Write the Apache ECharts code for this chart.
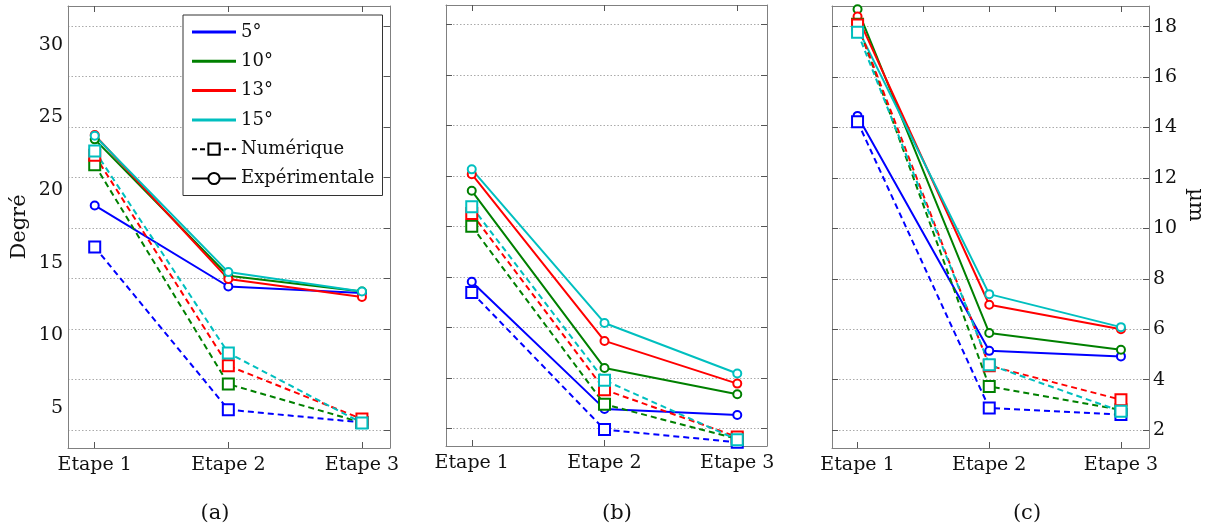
<!DOCTYPE html>
<html><head><meta charset="utf-8">
<script src="https://cdn.jsdelivr.net/npm/echarts@6/dist/echarts.min.js"></script>
<style>html,body{margin:0;padding:0;background:#fff}#c{width:1207px;height:530px}</style>
</head><body><div id="c"></div>
<script>
const etapes = ['Etape 1', 'Etape 2', 'Etape 3'];
const angles = ['5°', '10°', '13°', '15°'];
const colors = ['#0000ff', '#008000', '#ff0000', '#00bfbf'];
const captions = ['(a)', '(b)', '(c)'];
const degTicks = [5, 10, 15, 20, 25, 30];
const umTicks = [2, 4, 6, 8, 10, 12, 14, 16, 18];

// Panel (a): degrees ; rows = 5°,10°,13°,15° ; cols = Etape 1..3
const aExp = [[18.95, 13.37, 12.92], [23.5, 14.11, 13.03], [23.8, 13.88, 12.64], [23.75, 14.36, 13.03]];
const aNum = [[16.08, 4.89, 4.01], [21.75, 6.65, 4.0], [22.4, 7.91, 4.25], [22.7, 8.79, 3.97]];
// Panel (b): µm
const bExp = [[7.81, 2.78, 2.54], [11.41, 4.40, 3.36], [12.07, 5.47, 3.78], [12.26, 6.18, 4.18]];
const bNum = [[7.39, 1.96, 1.46], [10.01, 2.96, 1.59], [10.51, 3.54, 1.67], [10.78, 3.91, 1.56]];
// Panel (c): µm
const cExp = [[14.46, 5.14, 4.92], [18.69, 5.85, 5.18], [18.40, 6.97, 6.0], [17.94, 7.39, 6.08]];
const cNum = [[14.23, 2.87, 2.61], [18.1, 3.73, 2.80], [18.07, 4.55, 3.20], [17.78, 4.59, 2.74]];

const FONT = 'DejaVu Serif';
const TXT = '#111';
const FRAME = '#808080';
const TICK = '#555';

const grids = [
  {left: 68, top: 6, width: 322, height: 442},
  {left: 446, top: 5, width: 321, height: 441},
  {left: 832, top: 6, width: 320, height: 442}
];
const xRanges = [[-0.2, 2.21], [-0.194, 2.224], [-0.194, 2.213]];
const umRanges = [[1.287, 18.80], [1.311, 18.764], [1.286, 18.82]];
const topTicks = [[0, 1, 2], [0, 1, 2], [0, 0.5, 1, 1.5, 2]];

const xAxis = [];
grids.forEach((g, i) => {
  xAxis.push({
    type: 'value', gridIndex: i, min: xRanges[i][0], max: xRanges[i][1], position: 'bottom',
    axisLine: {show: true, onZero: false, lineStyle: {color: FRAME, width: 1}},
    axisTick: {show: true, inside: true, length: 6, customValues: [0, 1, 2], lineStyle: {color: TICK}},
    axisLabel: {customValues: [0, 1, 2], formatter: v => etapes[Math.round(v)], fontFamily: FONT, fontSize: 19, color: TXT, margin: 8},
    splitLine: {show: false}
  });
  xAxis.push({
    type: 'value', gridIndex: i, min: xRanges[i][0], max: xRanges[i][1], position: 'top',
    axisLine: {show: true, onZero: false, lineStyle: {color: FRAME, width: 1}},
    axisTick: {show: true, inside: true, length: 6, customValues: topTicks[i], lineStyle: {color: TICK}},
    axisLabel: {show: false},
    splitLine: {show: false}
  });
});

const gridLine = {show: true, lineStyle: {color: '#aaaaaa', type: [1.5, 2], width: 1}};
const yAxis = [
  // 0: degree axis panel (a)
  {type: 'value', gridIndex: 0, position: 'left', min: 2.25, max: 32.68,
   name: 'Degré', nameLocation: 'middle', nameRotate: 90, nameGap: 38,
   nameTextStyle: {fontFamily: FONT, fontSize: 21, color: TXT},
   axisLine: {show: true, onZero: false, lineStyle: {color: FRAME}},
   axisTick: {show: false},
   axisLabel: {customValues: degTicks, fontFamily: FONT, fontSize: 19, color: TXT, margin: 5},
   splitLine: {show: false}},
  // 1: µm grid panel (a)
  {type: 'value', gridIndex: 0, position: 'right', min: umRanges[0][0], max: umRanges[0][1], splitNumber: 9,
   axisLine: {show: true, onZero: false, lineStyle: {color: FRAME}},
   axisTick: {show: true, inside: true, length: 6, customValues: umTicks, lineStyle: {color: TICK}},
   axisLabel: {show: false}, splitLine: gridLine},
  // 2,3: panel (b)
  {type: 'value', gridIndex: 1, position: 'left', min: umRanges[1][0], max: umRanges[1][1], splitNumber: 9,
   axisLine: {show: true, onZero: false, lineStyle: {color: FRAME}},
   axisTick: {show: true, inside: true, length: 6, customValues: umTicks, lineStyle: {color: TICK}},
   axisLabel: {show: false}, splitLine: gridLine},
  {type: 'value', gridIndex: 1, position: 'right', min: umRanges[1][0], max: umRanges[1][1], splitNumber: 9,
   axisLine: {show: true, onZero: false, lineStyle: {color: FRAME}},
   axisTick: {show: true, inside: true, length: 6, customValues: umTicks, lineStyle: {color: TICK}},
   axisLabel: {show: false}, splitLine: {show: false}},
  // 4,5: panel (c)
  {type: 'value', gridIndex: 2, position: 'left', min: umRanges[2][0], max: umRanges[2][1], splitNumber: 9,
   axisLine: {show: true, onZero: false, lineStyle: {color: FRAME}},
   axisTick: {show: true, inside: true, length: 6, customValues: umTicks, lineStyle: {color: TICK}},
   axisLabel: {show: false}, splitLine: gridLine},
  {type: 'value', gridIndex: 2, position: 'right', min: umRanges[2][0], max: umRanges[2][1], splitNumber: 9,
   name: 'µm', nameLocation: 'middle', nameRotate: -90, nameGap: 36,
   nameTextStyle: {fontFamily: FONT, fontSize: 21, color: TXT, padding: [0, 44, 0, 0]},
   axisLine: {show: true, onZero: false, lineStyle: {color: FRAME}},
   axisTick: {show: true, inside: true, length: 6, customValues: umTicks, lineStyle: {color: TICK}},
   axisLabel: {customValues: umTicks, fontFamily: FONT, fontSize: 19, color: TXT, margin: 4},
   splitLine: {show: false}}
];

const panels = [
  {exp: aExp, num: aNum, x: 0, y: 0},
  {exp: bExp, num: bNum, x: 2, y: 2},
  {exp: cExp, num: cNum, x: 4, y: 4}
];

const series = [];
// legend-only series
angles.forEach((a, k) => series.push({
  type: 'line', name: a, data: [], symbol: 'none', xAxisIndex: 0, yAxisIndex: 0,
  lineStyle: {color: colors[k], width: 2.5}, itemStyle: {color: colors[k]}
}));
series.push({type: 'line', name: 'Numérique', data: [], symbol: 'emptyRect', symbolSize: 9, xAxisIndex: 0, yAxisIndex: 0,
  lineStyle: {color: '#000', width: 2, type: [5, 3]}, itemStyle: {color: '#000', borderWidth: 2}});
series.push({type: 'line', name: 'Expérimentale', data: [], symbol: 'emptyCircle', symbolSize: 7, xAxisIndex: 0, yAxisIndex: 0,
  lineStyle: {color: '#000', width: 2}, itemStyle: {color: '#000', borderWidth: 2}});

panels.forEach((p, pi) => {
  p.exp.forEach((row, k) => series.push({
    type: 'line', name: angles[k] + ' exp ' + pi, xAxisIndex: p.x, yAxisIndex: p.y,
    data: row.map((v, j) => [j, v]), symbol: 'emptyCircle', symbolSize: 8,
    lineStyle: {color: colors[k], width: 2}, itemStyle: {color: colors[k], borderWidth: 1.6},
    silent: true
  }));
  p.num.forEach((row, k) => series.push({
    type: 'line', name: angles[k] + ' num ' + pi, xAxisIndex: p.x, yAxisIndex: p.y,
    data: row.map((v, j) => [j, v]), symbol: 'emptyRect', symbolSize: 11,
    lineStyle: {color: colors[k], width: 2, type: [6, 4]}, itemStyle: {color: colors[k], borderWidth: 1.8},
    silent: true
  }));
});

const lineIcon = 'path://M0,0 L44,0 L44,3 L0,3 Z';
const capX = [210, 612, 1022];
const option = {
  animation: false,
  backgroundColor: '#fff',
  grid: grids,
  xAxis: xAxis,
  yAxis: yAxis,
  title: captions.map((c, i) => ({text: c, left: capX[i], top: 498, textAlign: 'center',
    textStyle: {fontFamily: FONT, fontSize: 21, fontWeight: 'normal', color: TXT}})),
  legend: {
    orient: 'vertical', left: 183, top: 15, padding: [7, 8, 7, 8], itemGap: 9.3,
    itemWidth: 44, itemHeight: 14, borderColor: '#333', borderWidth: 1, backgroundColor: '#fff',
    textStyle: {fontFamily: FONT, fontSize: 18, color: TXT, lineHeight: 20},
    data: angles.map(a => ({name: a, icon: lineIcon})).concat([{name: 'Numérique'}, {name: 'Expérimentale'}])
  },
  series: series
};
const chart = echarts.init(document.getElementById('c'), null, {renderer: 'canvas'});
chart.setOption(option);
</script></body></html>
